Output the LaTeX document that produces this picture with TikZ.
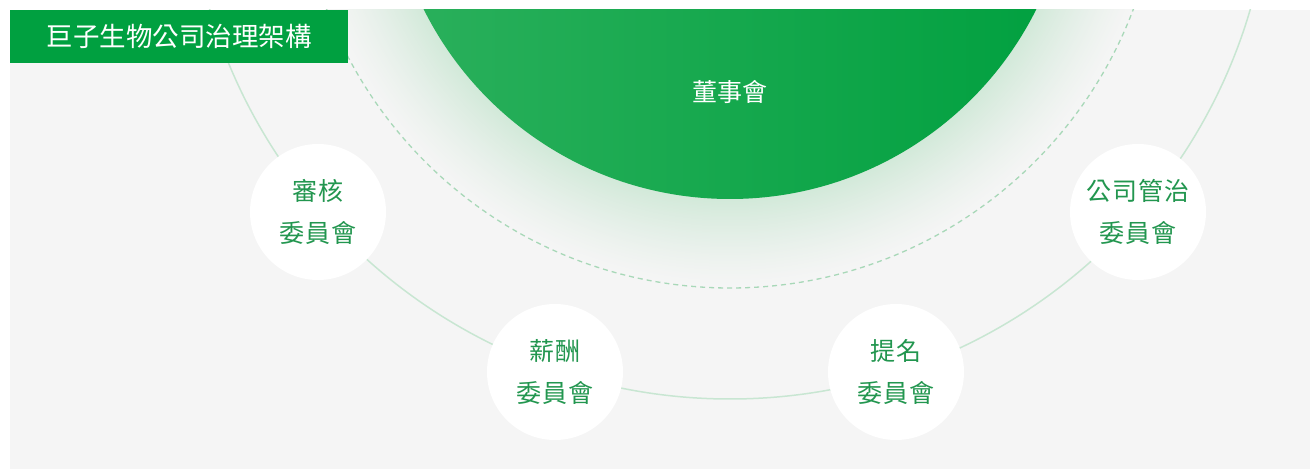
\documentclass[tikz,border=0pt]{standalone}
\usepackage{fontspec}
\newfontfamily\cjktitle{Noto Sans CJK TC}
\newfontfamily\cjkboard{Noto Sans CJK TC}
\newfontfamily\cjkcomm[LetterSpace=4]{Noto Sans CJK TC}
\definecolor{bgc}{HTML}{F5F5F5}
\definecolor{gtitle}{HTML}{00A040}
\definecolor{gleft}{HTML}{2BB05C}
\definecolor{gright}{HTML}{00A03F}
\definecolor{glowc}{HTML}{D2E9D9}
\definecolor{dashc}{HTML}{A8D8B8}
\definecolor{ringc}{HTML}{C8E6D2}
\definecolor{txtg}{HTML}{22964F}
\begin{document}
\begin{tikzpicture}[x=1pt,y=-1pt,
  committee/.style={circle, fill=white, minimum size=136pt, inner sep=0pt,
    text=txtg, align=center, font=\cjkcomm\fontsize{25pt}{42pt}\selectfont},
  ringline/.style={draw=ringc, line width=1.5pt},
  dashline/.style={draw=dashc, line width=1.3pt, dash pattern=on 5pt off 4pt},
]
\useasboundingbox (0,0) rectangle (1310,470);
\fill[bgc] (10,10) rectangle (1310,469);
\coordinate (O) at (730,-143);
\begin{scope}
  \clip (10,10) rectangle (1310,469);
  % outer ring
  \draw[ringline] (O) circle (542);
  % glow
  \foreach \i in {0,...,60} {
    \pgfmathsetmacro\rr{432-\i*1.5}
    \pgfmathsetmacro\pp{100*(\i/60)^1.3}
    \fill[glowc!\pp!bgc] (O) circle (\rr);
  }
  % dashed ring
  \draw[dashline] (O) circle (431);
  % board circle
  \shade[left color=gleft, right color=gright] (O) circle (342);
\end{scope}
\node[text=white, font=\cjkboard\fontsize{25pt}{29pt}\selectfont] (board) at (730,92) {董事會};
\node[fill=gtitle, minimum width=338pt, minimum height=52.5pt, inner sep=0pt,
  anchor=north west, text=white, font=\cjktitle\fontsize{26.5pt}{31pt}\selectfont] (title) at (10,10) {巨子生物公司治理架構};
\node[committee] (audit) at (318,212) {審核\\委員會};
\node[committee] (remun) at (555,372) {薪酬\\委員會};
\node[committee] (nomin) at (896,372) {提名\\委員會};
\node[committee] (gov) at (1138,212) {公司管治\\委員會};
\end{tikzpicture}
\end{document}
